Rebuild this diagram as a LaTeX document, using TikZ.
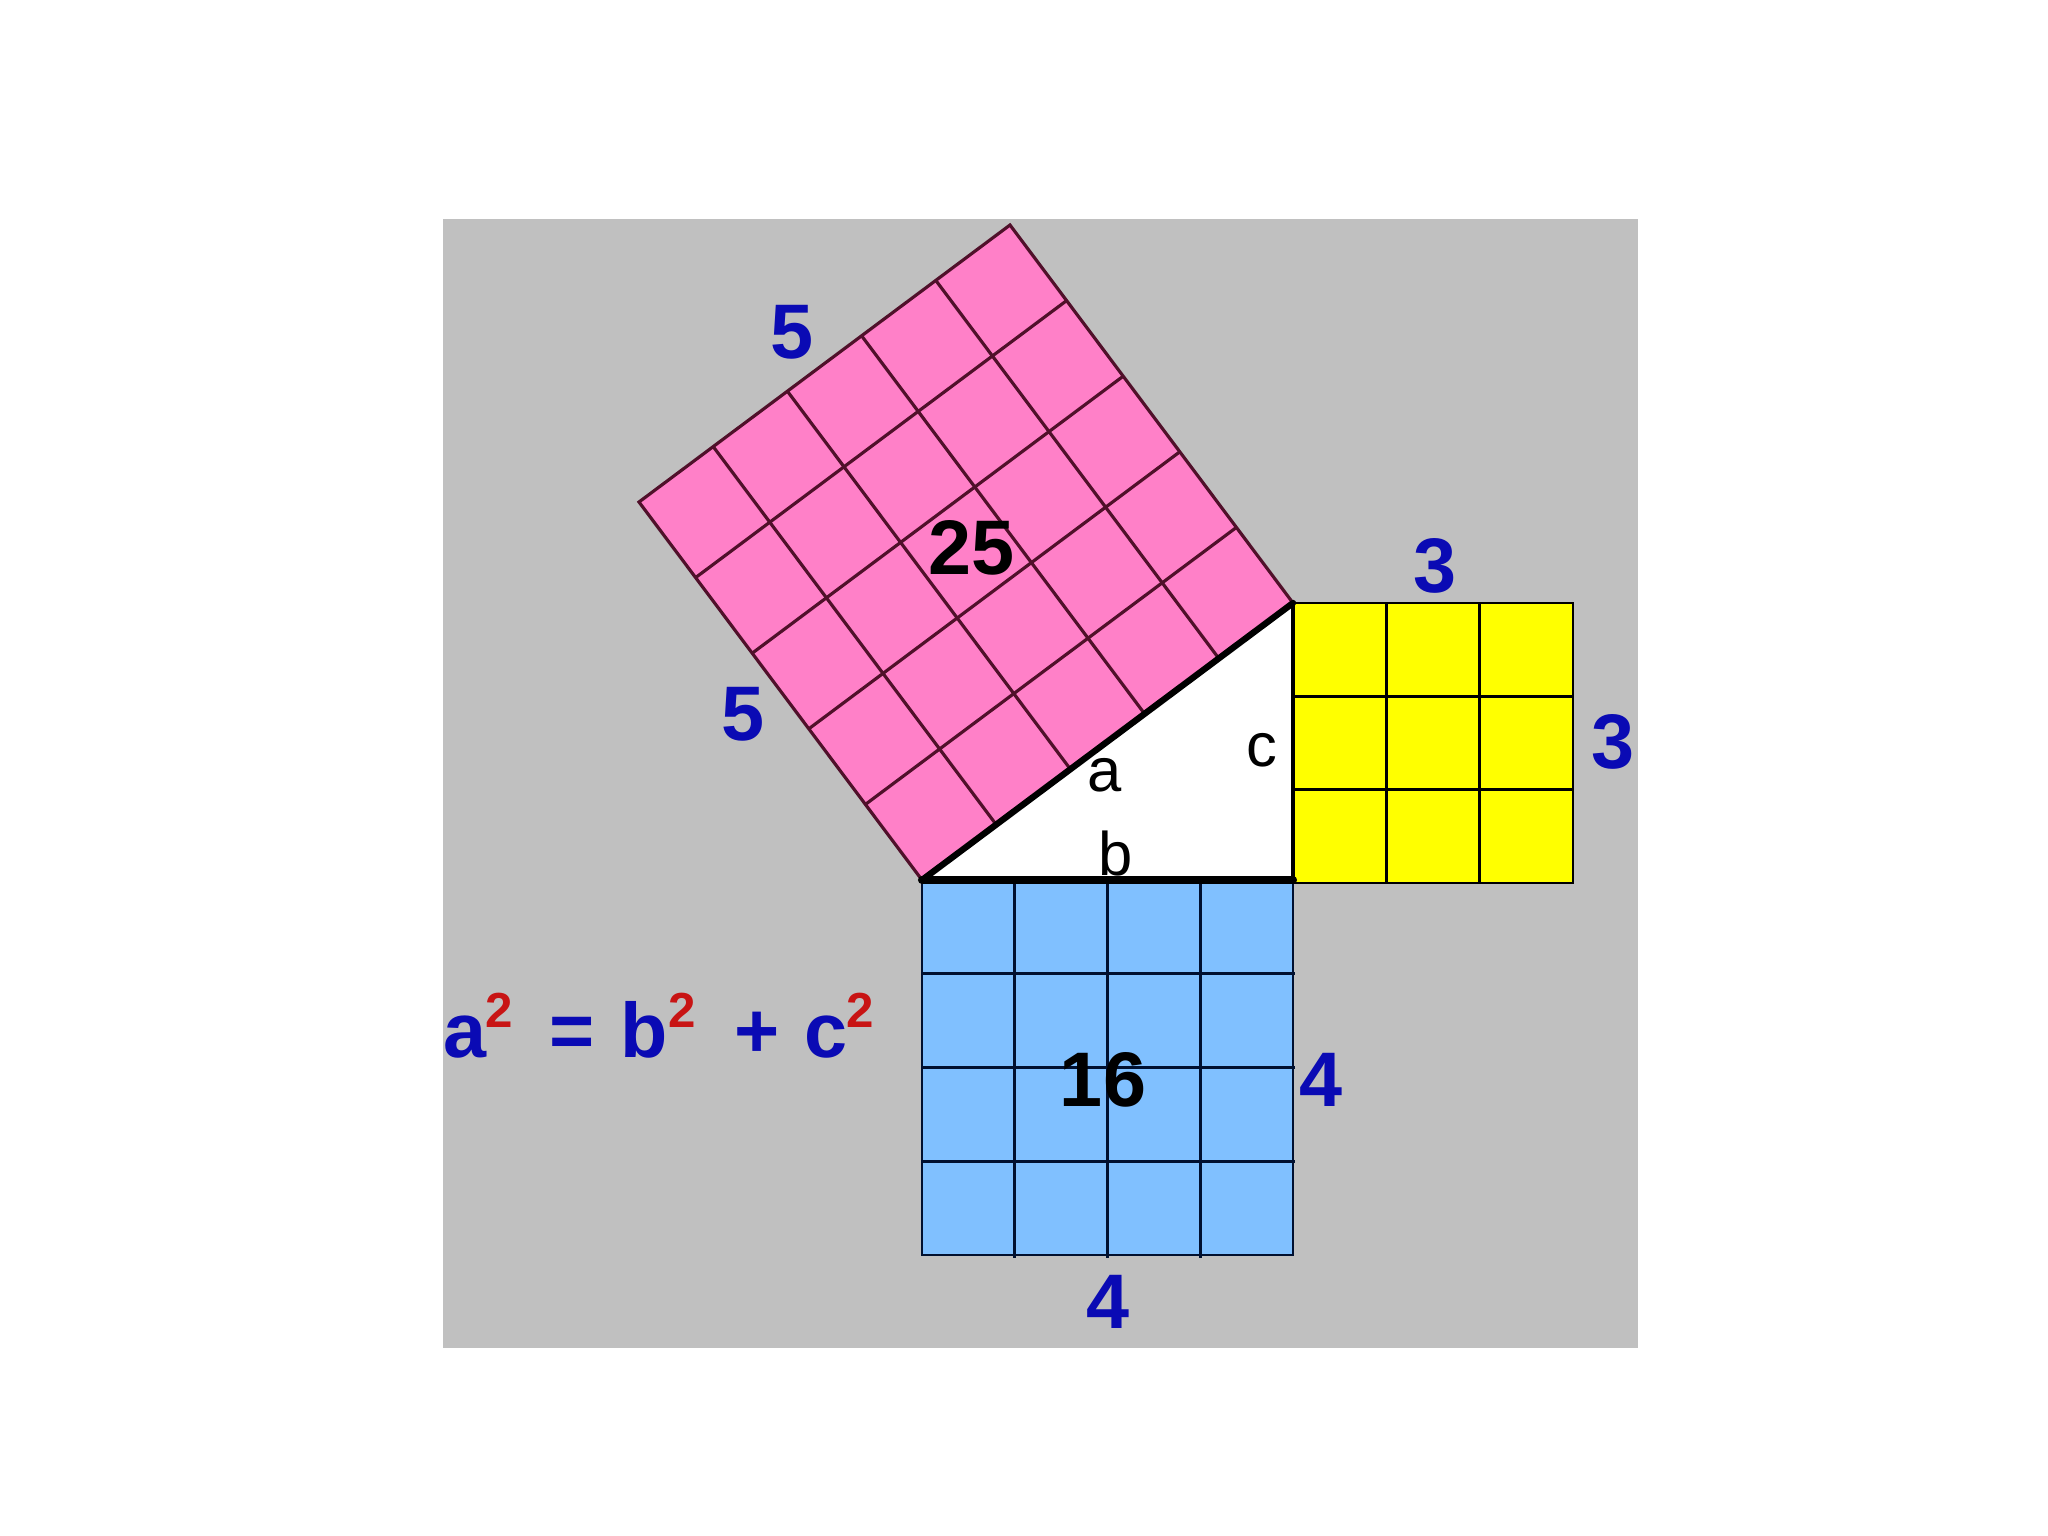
\documentclass[tikz,border=0pt]{standalone}
\usepackage{fontspec}
\setmainfont{Liberation Sans}
\usetikzlibrary{calc}
\definecolor{bg}{HTML}{C0C0C0}
\definecolor{pinkf}{HTML}{FF80C8}
\definecolor{pinkl}{HTML}{50102A}
\definecolor{yelf}{HTML}{FFFF00}
\definecolor{bluef}{HTML}{80C0FF}
\definecolor{bluel}{HTML}{001030}
\definecolor{lblue}{HTML}{0A0AB4}
\definecolor{lred}{HTML}{C81414}
\tikzset{
  numlbl/.style={font=\fontsize{22}{26}\selectfont\bfseries, text=lblue, inner sep=0pt},
  arealbl/.style={font=\fontsize{22}{26}\selectfont\bfseries, text=black, inner sep=0pt},
  sidelbl/.style={font=\fontsize{17.5}{21}\selectfont, text=black, inner sep=0pt},
  eqmain/.style={font=\fontsize{22}{26}\selectfont\bfseries, text=lblue, inner sep=0pt, anchor=base west},
  eqsup/.style={font=\fontsize{14}{17}\selectfont\bfseries, text=lred, inner sep=0pt, anchor=base west},
}
\begin{document}
\begin{tikzpicture}[x=0.01cm,y=-0.01cm]
\useasboundingbox (0,0) rectangle (2048,1536);
\fill[bg] (443,219) rectangle (1638,1348);
% triangle vertices
\coordinate (A) at (922,880);
\coordinate (R) at (1293,880);
\coordinate (B) at (1293,603);
% pink square
\coordinate (D) at (639,502);
\coordinate (C) at (1010,225);
\fill[pinkf] (A) -- (B) -- (C) -- (D) -- cycle;
\foreach \t in {0.2,0.4,0.6,0.8} {
  \draw[pinkl, line width=0.9pt] ($(A)!\t!(B)$) -- ($(D)!\t!(C)$);
  \draw[pinkl, line width=0.9pt] ($(A)!\t!(D)$) -- ($(B)!\t!(C)$);
}
\draw[pinkl, line width=0.9pt] (A) -- (D) -- (C) -- (B);
% yellow square
\fill[yelf] (1293,603) rectangle (1573,883);
\foreach \i in {1,2} {
  \draw[black, line width=0.7pt] ({1293+\i*93.33},603) -- ({1293+\i*93.33},883);
  \draw[black, line width=0.7pt] (1293,{603+\i*93.33}) -- (1573,{603+\i*93.33});
}
\draw[black, line width=0.7pt] (1293,603) rectangle (1573,883);
% blue square
\fill[bluef] (922,880) rectangle (1293,1255);
\foreach \i in {1,2,3} {
  \draw[bluel, line width=0.8pt] ({922+\i*92.75},880) -- ({922+\i*92.75},1258);
  \draw[bluel, line width=0.8pt] (922,{880+\i*93.75}) -- (1295,{880+\i*93.75});
}
\draw[bluel, line width=0.8pt] (922,880) rectangle (1293,1255);
% triangle
\fill[white] (A) -- (R) -- (B) -- cycle;
\draw[black, line width=1pt] (R) -- (B);
\draw[black, line width=2.3pt, line cap=round] (A) -- (R);
\draw[black, line width=1.8pt, line cap=round] (A) -- (B);
% side letters
\node[sidelbl] (la) at (1105,775) {a};
\node[sidelbl] (lb) at (1116,853) {b};
\node[sidelbl] (lc) at (1262,750) {c};
% area labels
\node[arealbl] (n25) at (972,548) {25};
\node[arealbl] (n16) at (1103,1080) {16};
% side numbers
\node[numlbl] (p1) at (792,332) {5};
\node[numlbl] (p2) at (743,714) {5};
\node[numlbl] (y1) at (1435,566) {3};
\node[numlbl] (y2) at (1613,742) {3};
\node[numlbl] (b1) at (1321,1080) {4};
\node[numlbl] (b2) at (1108,1302) {4};
% equation
\node[eqmain] (ea) at (443,1057) {a};
\node[eqsup] (es1) at (485,1027) {2};
\node[eqmain] (eq) at (549,1057) {=};
\node[eqmain] (eb) at (620,1057) {b};
\node[eqsup] (es2) at (668,1027) {2};
\node[eqmain] (ep) at (734,1057) {+};
\node[eqmain] (ec) at (804,1057) {c};
\node[eqsup] (es3) at (846,1027) {2};
\end{tikzpicture}
\end{document}
